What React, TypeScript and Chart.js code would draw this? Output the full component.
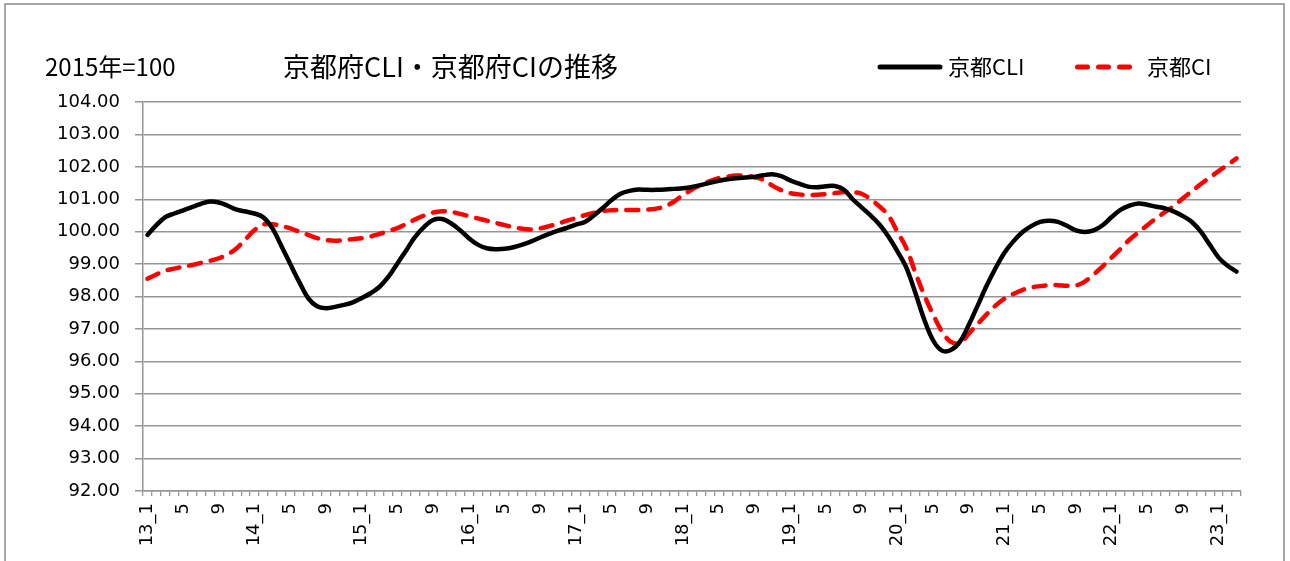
import React, { useEffect, useRef } from "react";
import { Chart, registerables } from "chart.js";

Chart.register(...registerables);

const years = [13, 14, 15, 16, 17, 18, 19, 20, 21, 22, 23];
const lastYearMonths = 3;
const labeledMonths = [1, 5, 9];

const titleText = "京都府CLI・京都府CIの推移";
const unitText = "2015年=100";
const seriesNames = ["京都CLI", "京都CI"];

const cliValues = [
  99.9, 100.2, 100.45, 100.56, 100.66, 100.76, 100.86, 100.93, 100.9, 100.8, 100.68, 100.62,
  100.56, 100.44, 100.1, 99.56, 99.0, 98.45, 97.95, 97.7, 97.64, 97.68, 97.74, 97.82,
  97.95, 98.1, 98.3, 98.61, 99.02, 99.43, 99.85, 100.15, 100.36, 100.39, 100.26, 100.05,
  99.8, 99.6, 99.49, 99.46, 99.47, 99.52, 99.6, 99.7, 99.82, 99.93, 100.03, 100.12,
  100.22, 100.3, 100.5, 100.73, 100.98, 101.17, 101.26, 101.3, 101.29, 101.29, 101.3, 101.32,
  101.34, 101.38, 101.44, 101.51, 101.57, 101.62, 101.65, 101.67, 101.69, 101.74, 101.77, 101.71,
  101.58, 101.48, 101.39, 101.37, 101.4, 101.41, 101.3, 101.0, 100.75, 100.5, 100.22, 99.85,
  99.4, 98.9, 98.13, 97.3, 96.65, 96.33, 96.35, 96.6, 97.12, 97.72, 98.33, 98.87,
  99.35, 99.7, 99.98, 100.17, 100.3, 100.34, 100.3, 100.18, 100.04, 99.99, 100.04, 100.2,
  100.45, 100.67, 100.8, 100.87, 100.83, 100.77, 100.72, 100.62, 100.48, 100.3, 100.0, 99.6,
  99.2, 98.95, 98.77,
];

const ciValues = [
  98.55, 98.68, 98.8, 98.86, 98.92, 98.97, 99.04, 99.1, 99.18, 99.3, 99.49, 99.77,
  100.05, 100.22, 100.23, 100.18, 100.1, 100.0, 99.9, 99.8, 99.74, 99.72, 99.74, 99.77,
  99.8, 99.85, 99.93, 100.02, 100.11, 100.24, 100.38, 100.5, 100.59, 100.63, 100.61, 100.55,
  100.48, 100.41, 100.34, 100.27, 100.2, 100.14, 100.09, 100.07, 100.1, 100.17, 100.25, 100.34,
  100.42, 100.51, 100.58, 100.64, 100.66, 100.67, 100.67, 100.67, 100.68, 100.71, 100.78, 100.93,
  101.13, 101.3, 101.44, 101.56, 101.65, 101.7, 101.73, 101.73, 101.68, 101.6, 101.42, 101.28,
  101.19, 101.15, 101.13, 101.14, 101.16, 101.19, 101.22, 101.22, 101.17, 101.0, 100.78, 100.5,
  100.0, 99.5, 98.75, 98.05, 97.45, 96.92, 96.6, 96.56, 96.85, 97.15, 97.45, 97.72,
  97.93, 98.08, 98.2, 98.28, 98.32, 98.35, 98.35, 98.33, 98.34, 98.46, 98.68, 98.93,
  99.2, 99.47, 99.75, 99.98, 100.2, 100.41, 100.61, 100.8, 101.03, 101.25, 101.47, 101.67,
  101.87, 102.06, 102.26,
];

const yMin = 92;
const yMax = 104;

function buildLabels(): string[] {
  const out: string[] = [];
  years.forEach((y, yi) => {
    const n = yi === years.length - 1 ? lastYearMonths : 12;
    for (let m = 1; m <= n; m++) {
      if (!labeledMonths.includes(m)) out.push("");
      else if (m === 1) out.push(`${y}_1`);
      else out.push(String(m));
    }
  });
  return out;
}

const GRID = "#969696";
const TICK_FONT = { family: "'DejaVu Sans', sans-serif", size: 18 };
const JP = "'Noto Sans CJK JP', sans-serif";

export default function App() {
  const ref = useRef<HTMLCanvasElement | null>(null);

  useEffect(() => {
    if (!ref.current) return;
    const labels = buildLabels();

    const decor = {
      id: "decor",
      beforeDraw(chart: any) {
        const ctx = chart.ctx;
        ctx.save();
        ctx.fillStyle = "#ffffff";
        ctx.fillRect(0, 0, chart.width, chart.height);
        ctx.strokeStyle = "#8a8a8a";
        ctx.lineWidth = 1.5;
        ctx.strokeRect(5, 4, 1279, 620);
        ctx.restore();
      },
      afterDraw(chart: any) {
        const ctx = chart.ctx;
        ctx.save();
        ctx.fillStyle = "#000";
        ctx.textBaseline = "middle";
        ctx.textAlign = "left";
        ctx.font = `24px ${JP}`;
        ctx.fillText(unitText, 45, 67);
        ctx.font = `27px ${JP}`;
        ctx.fillText(titleText, 283, 67);
        // legend
        ctx.font = `22px ${JP}`;
        ctx.lineCap = "round";
        ctx.lineWidth = 5;
        ctx.strokeStyle = "#000";
        ctx.beginPath();
        ctx.moveTo(880, 67);
        ctx.lineTo(940, 67);
        ctx.stroke();
        ctx.fillText(seriesNames[0], 948, 67);
        ctx.strokeStyle = "#ff0000";
        ctx.setLineDash([10, 11]);
        ctx.beginPath();
        ctx.moveTo(1077.5, 67);
        ctx.lineTo(1133, 67);
        ctx.stroke();
        ctx.setLineDash([]);
        ctx.fillText(seriesNames[1], 1147, 67);
        ctx.restore();
      },
    };

    const chart = new Chart(ref.current, {
      type: "line",
      data: {
        labels,
        datasets: [
          {
            label: seriesNames[0],
            data: cliValues,
            borderColor: "#000000",
            backgroundColor: "#000000",
            borderWidth: 4.5,
            pointRadius: 0,
            tension: 0.35,
            borderCapStyle: "round",
            borderJoinStyle: "round",
            fill: false,
          },
          {
            label: seriesNames[1],
            data: ciValues,
            borderColor: "#ff0000",
            backgroundColor: "#ff0000",
            borderWidth: 4.5,
            borderDash: [12, 10],
            pointRadius: 0,
            tension: 0.35,
            borderCapStyle: "round",
            borderJoinStyle: "round",
            fill: false,
          },
        ],
      },
      options: {
        responsive: false,
        animation: false,
        events: [],
        layout: { padding: { top: 102, right: 49, left: 0, bottom: 0 } },
        plugins: {
          legend: { display: false },
          title: { display: false },
          tooltip: { enabled: false },
        },
        scales: {
          x: {
            type: "category",
            offset: true,
            grid: {
              offset: true,
              drawOnChartArea: false,
              drawTicks: true,
              tickLength: 5,
              color: GRID,
              lineWidth: 1.3,
            },
            border: { display: true, color: GRID, width: 1.5 },
            ticks: {
              autoSkip: false,
              minRotation: 90,
              maxRotation: 90,
              padding: 7,
              color: "#000",
              font: TICK_FONT,
            },
            afterFit: (s: any) => {
              s.height = 70;
            },
          },
          y: {
            min: yMin,
            max: yMax,
            grid: {
              color: GRID,
              lineWidth: 1.5,
              tickLength: 8,
              drawTicks: true,
            },
            border: { display: true, color: GRID, width: 1.5 },
            ticks: {
              stepSize: 1,
              padding: 15,
              color: "#000",
              font: TICK_FONT,
              callback: (v: any) => Number(v).toFixed(2),
            },
            afterFit: (s: any) => {
              s.width = 143;
            },
          },
        },
      },
      plugins: [decor],
    });

    return () => chart.destroy();
  }, []);

  return (
    <div style={{ position: "fixed", left: 0, top: 0, width: 1290, height: 561, background: "#fff" }}>
      <canvas ref={ref} width={1290} height={561} style={{ display: "block" }} />
    </div>
  );
}
